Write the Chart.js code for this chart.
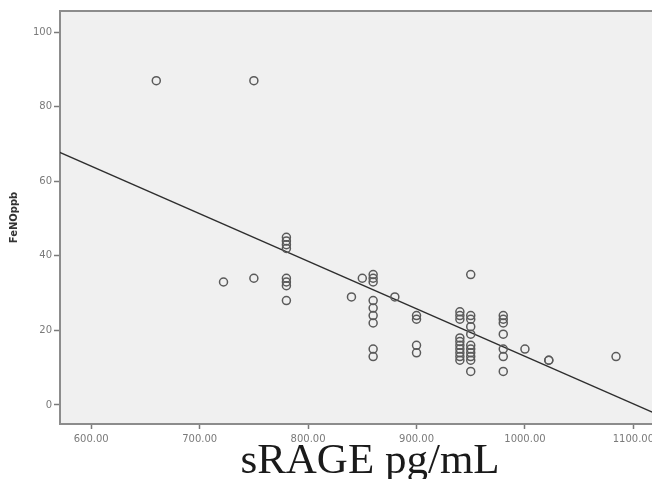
<!DOCTYPE html>
<html>
<head>
<meta charset="utf-8">
<script src="https://cdn.jsdelivr.net/npm/chart.js@4/dist/chart.umd.min.js"></script>
<style>
  html, body { margin: 0; padding: 0; background: #ffffff; overflow: hidden; }
  #wrap { position: relative; width: 700px; height: 479px; }
  canvas { filter: blur(0.35px); }
</style>
</head>
<body>
<div id="wrap"><canvas id="c" width="700" height="479"></canvas></div>
<script>
// ---- data ----
const sRAGE = [
  660, 750, 722, 750,
  780, 780, 780, 780, 780, 780, 780, 780,
  840, 850,
  860, 860, 860, 860, 860, 860, 860, 860, 860,
  880,
  900, 900, 900, 900,
  940, 940, 940, 940, 940, 940, 940, 940, 940, 940,
  950, 950, 950, 950, 950, 950, 950, 950, 950, 950, 950,
  980, 980, 980, 980, 980, 980, 980,
  1000, 1022, 1022, 1084
];
const FeNO = [
  87, 87, 33, 34,
  45, 44, 43, 42, 34, 33, 32, 28,
  29, 34,
  35, 34, 33, 28, 26, 24, 22, 15, 13,
  29,
  24, 23, 16, 14,
  25, 24, 23, 18, 17, 16, 15, 14, 13, 12,
  35, 24, 23, 21, 19, 16, 15, 14, 13, 12, 9,
  24, 23, 22, 19, 15, 13, 9,
  15, 12, 12, 13
];
// fitted regression line end points
const fitX = [571, 1140];
const fitY = [67.8, -4.8];

const xTicks = [600, 700, 800, 900, 1000, 1100];
const yTicks = [0, 20, 40, 60, 80, 100];
const xTitle = 'sRAGE pg/mL';
const yTitle = 'FeNOppb';

const points = sRAGE.map((x, i) => ({ x: x, y: FeNO[i] }));
const fitLine = fitX.map((x, i) => ({ x: x, y: fitY[i] }));

const plotFrame = {
  id: 'plotFrame',
  beforeDatasetsDraw(chart) {
    const a = chart.chartArea, ctx = chart.ctx;
    ctx.save();
    ctx.fillStyle = '#f0f0f0';
    ctx.fillRect(a.left, a.top, a.right - a.left, a.bottom - a.top);
    ctx.strokeStyle = '#8c8c8c';
    ctx.lineWidth = 2;
    ctx.strokeRect(a.left, a.top, a.right - a.left, a.bottom - a.top);
    ctx.restore();
  }
};

new Chart(document.getElementById('c'), {
  type: 'scatter',
  data: {
    datasets: [
      {
        data: points,
        pointRadius: 4,
        pointBorderWidth: 1.5,
        pointBorderColor: '#5a5a5a',
        pointBackgroundColor: 'rgba(0,0,0,0)',
        showLine: false
      },
      {
        type: 'line',
        data: fitLine,
        borderColor: '#2e2e2e',
        borderWidth: 1.4,
        pointRadius: 0,
        fill: false,
        tension: 0
      }
    ]
  },
  plugins: [plotFrame],
  options: {
    responsive: false,
    animation: false,
    layout: { padding: { top: 11, right: 20, left: 0, bottom: 0 } },
    plugins: { legend: { display: false }, tooltip: { enabled: false } },
    scales: {
      x: {
        type: 'linear',
        min: 571.2,
        max: 1143,
        afterBuildTicks(s) { s.ticks = xTicks.map(v => ({ value: v })); },
        afterFit(s) { s.height = 55; },
        border: { display: false },
        grid: { drawOnChartArea: false, drawTicks: true, tickLength: 5, tickColor: '#7a7a7a', tickWidth: 1.5 },
        ticks: {
          padding: 4,
          color: '#7a7a7a',
          font: { family: 'DejaVu Sans', size: 10 },
          maxRotation: 0,
          callback: v => Number(v).toFixed(2)
        },
        title: {
          display: true,
          text: xTitle,
          color: '#1a1a1a',
          font: { family: 'Liberation Serif', size: 43, lineHeight: 1 },
          padding: { top: 0, bottom: -4 }
        }
      },
      y: {
        type: 'linear',
        min: -5.1,
        max: 105.7,
        afterBuildTicks(s) { s.ticks = yTicks.map(v => ({ value: v })); },
        afterFit(s) { s.width = 60; },
        border: { display: false },
        grid: { drawOnChartArea: false, drawTicks: true, tickLength: 6, tickColor: '#7a7a7a', tickWidth: 1.5 },
        ticks: {
          padding: 2,
          color: '#7a7a7a',
          font: { family: 'DejaVu Sans', size: 10 }
        },
        title: {
          display: true,
          text: yTitle,
          color: '#333333',
          font: { family: 'DejaVu Sans', size: 10, weight: 'bold', lineHeight: 1.2 },
          padding: { top: 8, bottom: 0 }
        }
      }
    }
  }
});
</script>
</body>
</html>
